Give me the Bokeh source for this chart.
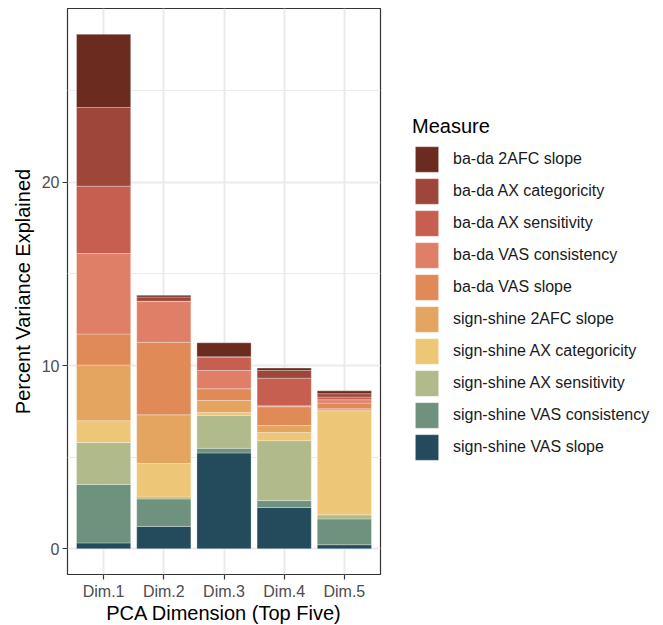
from bokeh.plotting import figure
from bokeh.models import Range1d, FixedTicker, Legend, LegendItem, ColumnDataSource
from bokeh.embed import file_html
from bokeh.resources import INLINE

# ---- data ----
dimensions = ["Dim.1", "Dim.2", "Dim.3", "Dim.4", "Dim.5"]
dim_pos = [1, 2, 3, 4, 5]

# legend order (top of stack first)
measures = [
    "ba-da 2AFC slope",
    "ba-da AX categoricity",
    "ba-da AX sensitivity",
    "ba-da VAS consistency",
    "ba-da VAS slope",
    "sign-shine 2AFC slope",
    "sign-shine AX categoricity",
    "sign-shine AX sensitivity",
    "sign-shine VAS consistency",
    "sign-shine VAS slope",
]

bada_2afc_slope = [4.00, 0.09, 0.76, 0.13, 0.16]
bada_ax_categoricity = [4.29, 0.23, 0.02, 0.42, 0.18]
bada_ax_sensitivity = [3.68, 0.02, 0.73, 1.51, 0.15]
bada_vas_consistency = [4.39, 2.22, 1.00, 0.05, 0.18]
bada_vas_slope = [1.69, 3.96, 0.64, 1.02, 0.31]
signshine_2afc_slope = [3.04, 2.66, 0.65, 0.38, 0.11]
signshine_ax_categoricity = [1.19, 1.82, 0.16, 0.45, 5.68]
signshine_ax_sensitivity = [2.29, 0.11, 1.80, 3.27, 0.22]
signshine_vas_consistency = [3.19, 1.50, 0.25, 0.38, 1.41]
signshine_vas_slope = [0.32, 1.22, 5.23, 2.25, 0.22]

series = [
    bada_2afc_slope, bada_ax_categoricity, bada_ax_sensitivity,
    bada_vas_consistency, bada_vas_slope, signshine_2afc_slope,
    signshine_ax_categoricity, signshine_ax_sensitivity,
    signshine_vas_consistency, signshine_vas_slope,
]

colors = [
    "#6B2C1F", "#9E463A", "#C65F50", "#E07F68", "#DF8A57",
    "#E3A55F", "#EDC677", "#B1BA8B", "#6F927F", "#234B5B",
]

y_ticks = [0, 10, 20]
y_minor = [5, 15, 25]

# ---- build ----
data = {"x": dim_pos}
keys = []
for i, s in enumerate(series):
    k = f"s{i}"
    data[k] = s
    keys.append(k)
source = ColumnDataSource(data)

total_max = max(sum(s[j] for s in series) for j in range(len(dim_pos)))
pad = total_max * 0.05

FONT = "Liberation Sans"

p = figure(
    frame_width=313, frame_height=566,
    min_border_left=67, min_border_right=283, min_border_top=8, min_border_bottom=51,
    x_range=Range1d(0.4, 5.6), y_range=Range1d(-pad, total_max + pad),
    output_backend="svg", toolbar_location=None,
)

# stack bottom -> top
bottom_keys = list(reversed(keys))
bottom_colors = list(reversed(colors))
renderers = p.vbar_stack(
    stackers=bottom_keys, x="x", width=0.9, source=source,
    fill_color=bottom_colors, line_color="white", line_width=0.3,
)

# legend key swatches (full-size squares, like ggplot keys)
n = len(measures)
items = []
for i in range(n):
    swatch = p.line(x=[], y=[], line_width=29, line_color=colors[i], line_cap="butt")
    items.append(LegendItem(label=measures[i], renderers=[renderers[n - 1 - i], swatch]))

legend = Legend(
    items=items, title="Measure",
    location=(32, 111),
    glyph_width=29, glyph_height=32, spacing=0, label_standoff=12,
    label_text_font=FONT, label_text_font_size="16px", label_text_color="#1A1A1A",
    title_text_font=FONT, title_text_font_size="20px", title_text_font_style="normal",
    title_text_color="black", title_standoff=5,
    padding=0, margin=0, border_line_color=None, background_fill_alpha=0,
)
p.add_layout(legend, "right")

# styling
p.background_fill_color = "white"
p.outline_line_color = "#333333"
p.outline_line_width = 1.2

p.xaxis.ticker = FixedTicker(ticks=dim_pos)
p.xaxis.major_label_overrides = {pos: lab for pos, lab in zip(dim_pos, dimensions)}
p.yaxis.ticker = FixedTicker(ticks=y_ticks, minor_ticks=y_minor)

for ax in (p.xaxis, p.yaxis):
    ax.axis_line_color = None
    ax.major_tick_line_color = "#333333"
    ax.major_tick_line_width = 1.2
    ax.major_tick_in = 0
    ax.major_tick_out = 5
    ax.minor_tick_line_color = None
    ax.major_label_text_font = FONT
    ax.major_label_text_font_size = "16px"
    ax.major_label_text_color = "#4D4D4D"
    ax.axis_label_text_font = FONT
    ax.axis_label_text_font_size = "20px"
    ax.axis_label_text_font_style = "normal"
    ax.axis_label_text_color = "black"

p.xaxis.axis_label = "PCA Dimension (Top Five)"
p.yaxis.axis_label = "Percent Variance Explained"
p.xaxis.major_label_standoff = 3
p.xaxis.axis_label_standoff = -1
p.yaxis.major_label_standoff = 3
p.yaxis.axis_label_standoff = 5

p.xgrid.grid_line_color = "#EBEBEB"
p.xgrid.grid_line_width = 2
p.ygrid.grid_line_color = "#EBEBEB"
p.ygrid.grid_line_width = 2
p.ygrid.minor_grid_line_color = "#EBEBEB"
p.ygrid.minor_grid_line_width = 1

open("out.html", "w").write(file_html(p, INLINE))
